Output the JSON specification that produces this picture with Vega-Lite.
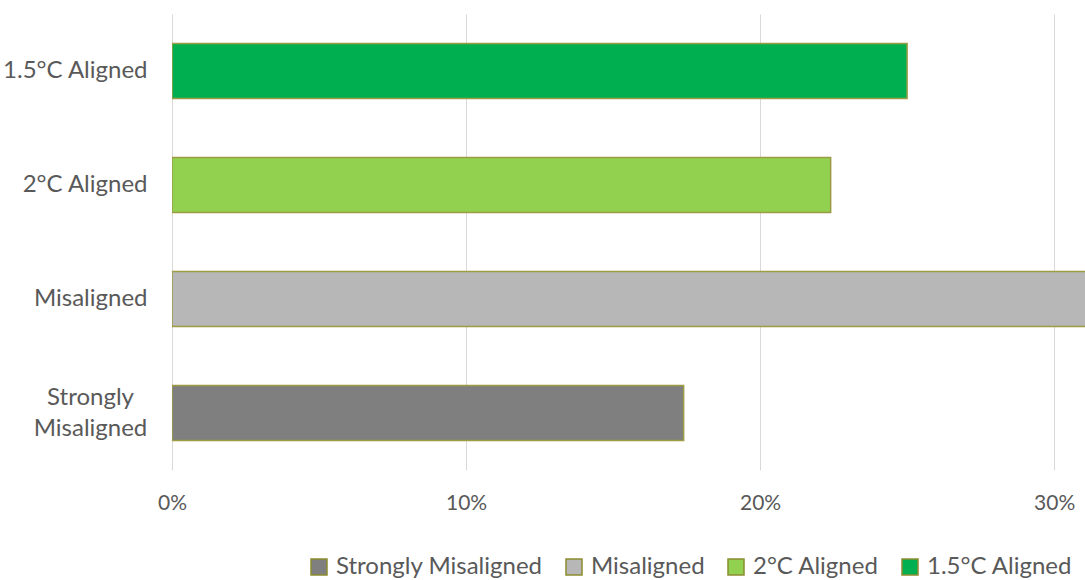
{
  "$schema": "https://vega.github.io/schema/vega-lite/v6.json",
  "width": 913,
  "height": 456,
  "autosize": {"type": "none"},
  "padding": {"left": 172, "top": 14, "right": 0, "bottom": 110},
  "background": "white",
  "config": {"view": {"stroke": null}, "font": "Lato"},
  "data": {
    "values": [
      {"category": "1.5°C Aligned", "share": 0.250},
      {"category": "2°C Aligned", "share": 0.224},
      {"category": "Misaligned", "share": 0.352},
      {"category": "Strongly Misaligned", "share": 0.174}
    ]
  },
  "mark": {"type": "bar", "clip": true, "stroke": "#9c9c44", "strokeWidth": 1.5},
  "encoding": {
    "y": {
      "field": "category",
      "type": "nominal",
      "sort": ["1.5°C Aligned", "2°C Aligned", "Misaligned", "Strongly Misaligned"],
      "scale": {"paddingInner": 0.518, "paddingOuter": 0.259},
      "axis": {
        "title": null,
        "domain": false,
        "ticks": false,
        "grid": false,
        "labelPadding": {"condition": {"test": "datum.value == 'Strongly Misaligned'", "value": 82}, "value": 25},
        "labelAlign": {"condition": {"test": "datum.value == 'Strongly Misaligned'", "value": "center"}, "value": "right"},
        "labelOffset": {"condition": {"test": "datum.value == 'Strongly Misaligned'", "value": -15}, "value": 0},
        "labelFontSize": 24,
        "labelColor": "#595959",
        "labelLineHeight": 31,
        "labelLimit": 300,
        "labelExpr": "datum.label == 'Strongly Misaligned' ? ['Strongly', 'Misaligned'] : datum.label"
      }
    },
    "x": {
      "field": "share",
      "type": "quantitative",
      "scale": {"domain": [0, 0.3105], "nice": false, "zero": true},
      "axis": {
        "title": null,
        "domain": false,
        "ticks": false,
        "values": [0, 0.1, 0.2, 0.3],
        "format": ".0%",
        "grid": true,
        "gridColor": "#d9d9d9",
        "gridWidth": 1,
        "labelPadding": 22,
        "labelFontSize": 21,
        "labelColor": "#595959",
        "labelFlush": false
      }
    },
    "color": {
      "field": "category",
      "type": "nominal",
      "scale": {
        "domain": ["Strongly Misaligned", "Misaligned", "2°C Aligned", "1.5°C Aligned"],
        "range": ["#7f7f7f", "#b7b7b7", "#92d050", "#00b050"]
      },
      "legend": {
        "title": null,
        "orient": "none",
        "legendX": 135,
        "legendY": 541,
        "direction": "horizontal",
        "symbolType": "square",
        "symbolSize": 256,
        "symbolStrokeColor": "#8c8c30",
        "symbolStrokeWidth": 1.5,
        "labelFontSize": 24,
        "labelColor": "#595959",
        "labelOffset": 5,
        "columnPadding": 19,
        "labelLimit": 400
      }
    }
  }
}
